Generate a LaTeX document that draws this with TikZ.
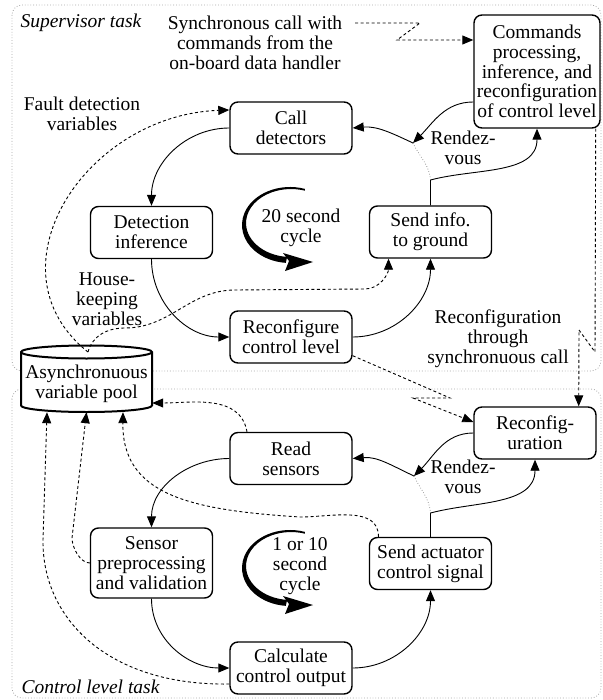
\documentclass[tikz,border=0pt]{standalone}
\usepackage{fontspec}
\setmainfont{Liberation Serif}
\usetikzlibrary{arrows.meta}

\newcommand\labelsize{\fontsize{19.5}{19.8}\selectfont}

\tikzset{
  box/.style={draw, line width=1.4pt, rounded corners=8pt, align=center,
    minimum width=122pt, minimum height=52pt, inner sep=2pt},
  flow/.style={-{Triangle[length=11pt,width=9pt]}, line width=.9pt},
  data/.style={flow, dash pattern=on 3pt off 2.5pt},
  rdv/.style={dotted, draw=gray, line width=.7pt},
  task/.style={draw=gray!70, dotted, line width=.8pt, rounded corners=10pt},
  tasklabel/.style={anchor=west, font=\labelsize\itshape},
  turn/.pic={
    % tapered loop, thin at the top and heavy at the bottom
    \fill (14.83,36.14) arc[start angle=72, end angle=265, x radius=48, y radius=38]
      -- (-2.9,-31.9) arc[start angle=265, end angle=72, x radius=45, y radius=34] -- cycle;
    \fill (23,-37) -- (-7,-28) -- (-1,-36) -- (-5,-46) -- cycle;
  },
}

\begin{document}
\begin{tikzpicture}[x=1pt,y=1pt,font=\labelsize]
\useasboundingbox (0,0) rectangle (602,-700);

% the two tasks
\draw[task] (12,-5) rectangle (601,-371);
\draw[task] (12,-389) rectangle (601,-698);
\node[tasklabel] at (17,-23) {Supervisor task};
\node[tasklabel] at (18,-687) {Control level task};

% variable pool, sits across both tasks
\draw[line width=2pt, fill=white] (21,-352) -- (21,-405.5)
  arc[start angle=180, end angle=360, x radius=65.5, y radius=6.5] -- (152,-352)
  arc[start angle=0, end angle=180, x radius=65.5, y radius=6.5] -- cycle;
\draw[line width=2pt] (21,-352) arc[start angle=180, end angle=360, x radius=65.5, y radius=6.5];
\node[align=center, minimum width=131pt, minimum height=56pt, inner sep=0pt] (pool) at (86.5,-384)
  {Asynchronuous\\variable pool};
\coordinate (pooltop) at (88,-352);

% supervisor loop
\node[box] (call) at (291,-128) {Call\\detectors};
\node[box, minimum width=126pt, minimum height=113pt] (cmd) at (537,-71.5)
  {Commands\\processing,\\inference, and\\reconfiguration\\of control level};
\node[box] (detect) at (151.5,-232.5) {Detection\\inference};
\node[box] (send) at (430.5,-232) {Send info.\\to ground};
\node[box] (reconf) at (291,-337) {Reconfigure\\control level};
\pic at (290,-225) {turn};
\node[align=center] (cyc1) at (301,-228) {20 second\\cycle};

\draw[flow] (call.west) to[out=180,in=90] (detect.north);
\draw[flow] (detect.south) to[out=-90,in=180] (reconf.west);
\draw[flow] (reconf.east) to[out=0,in=-90] (send.south);
\coordinate (kink1) at (430.5,-180);
\coordinate (rdv1) at (413,-143);
\draw[flow] (send.north) -- (kink1) to[out=15,in=-90] (cmd.south);
\draw[rdv] (rdv1) to[out=-65,in=95] (kink1);
\draw[flow] ([yshift=-30.5pt]cmd.west) to[out=180,in=45] (rdv1);
\draw[flow] (rdv1) to[out=155,in=5] (call.east);
\node[align=center] (rv1) at (463,-148) {Rendez-\\vous};

% control level loop
\node[box] (recfg) at (535,-433) {Reconfig-\\uration};
\node[box] (read) at (291,-458.5) {Read\\sensors};
\node[box, minimum height=70pt] (prep) at (151.5,-563) {Sensor\\preprocessing\\and validation};
\node[box] (act) at (430.5,-563.5) {Send actuator\\control signal};
\node[box] (calc) at (291,-668) {Calculate\\control output};
\pic at (290,-568) {turn};
\node[align=center] (cyc2) at (300,-566) {1 or 10\\second\\cycle};

\draw[flow] (read.west) to[out=180,in=90] (prep.north);
\draw[flow] (prep.south) to[out=-90,in=180] (calc.west);
\draw[flow] (calc.east) to[out=0,in=-90] (act.south);
\coordinate (kink2) at (430.5,-513);
\coordinate (rdv2) at (414,-476);
\draw[flow] (act.north) -- (kink2) to[out=15,in=-90] (recfg.south);
\draw[rdv] (rdv2) to[out=-65,in=95] (kink2);
\draw[flow] (recfg.west) to[out=180,in=45] (rdv2);
\draw[flow] (rdv2) to[out=155,in=5] (read.east);
\node[align=center] (rv2) at (463,-477) {Rendez-\\vous};

% variables in and out of the pool
\node[align=center] (fdv) at (82,-114) {Fault detection\\variables};
\draw[data] (pooltop) .. controls (-15,-270) and (85,-115) .. ([yshift=18pt]call.west);
\node[align=center] (hkv) at (107,-299) {House-\\keeping\\variables};
\draw[data] (pooltop) to[out=75,in=180] (125,-328) to[out=0,in=180] (235,-290)
  -- (365,-289) to[out=0,in=-90] ([xshift=-42pt]send.south);
\draw[data] ([xshift=-44pt]read.north) to[out=100,in=0] ([yshift=-19pt]pool.east);
\draw[data] ([xshift=-52pt]act.north) to[out=90,in=0] (300,-517)
  .. controls (190,-510) and (122,-495) .. ([xshift=36.5pt]pool.south);
\draw[data] (prep.west) to[out=180,in=-90,looseness=.8] (72,-538) -- (pool.south);
\draw[data] ([yshift=-16pt]calc.west) .. controls (110,-686) and (42,-620) .. (43,-540)
  -- ([xshift=-39.5pt]pool.south);

% synchronous calls
\node[align=center] (sync) at (255,-43) {Synchronous call with\\commands from the\\on-board data handler};
\coordinate (syncend) at (355,-23);
\draw[data] (syncend) -- (420,-23) -- (397,-40) -- ([yshift=31.5pt]cmd.west);
\draw[data] ([yshift=8pt]reconf.south east) -- (450,-398) -- (413,-398) -- ([yshift=11pt]recfg.west);
\node[align=center] (rsc) at (498,-339) {Reconfiguration\\through\\synchronuous call};
\draw[data] ([xshift=-5pt]cmd.south east) -- (595,-352) -- (579,-330) -- ([xshift=-18pt]recfg.north east);
\end{tikzpicture}
\end{document}
